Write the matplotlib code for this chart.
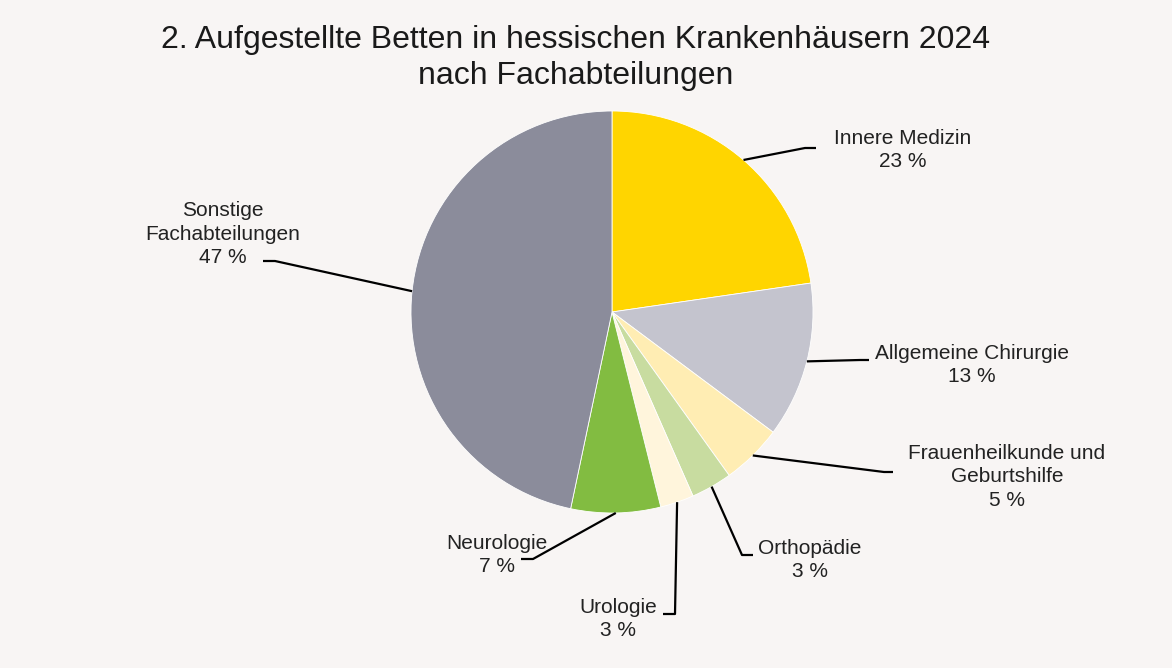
import numpy as np
import matplotlib.pyplot as plt

plt.rcParams["font.family"] = ["Liberation Sans", "DejaVu Sans"]

# Anteile in Prozent
categories = ["Innere Medizin", "Allgemeine Chirurgie", "Frauenheilkunde und\nGeburtshilfe",
              "Orthopädie", "Urologie", "Neurologie", "Sonstige\nFachabteilungen"]
values = [22.7, 12.5, 4.9, 3.3, 2.7, 7.2, 46.7]
pct_labels = ["23 %", "13 %", "5 %", "3 %", "3 %", "7 %", "47 %"]
colors = ["#FFD500", "#C4C4CE", "#FFEDB3", "#C8DCA0", "#FFF5DC", "#82BC41", "#8B8C9B"]

BG = "#F8F5F4"
CX, CY, R = 612, 312, 201

# label placement: (elbow x, elbow y, line end x, text x, text y)
label_pos = [
    (805, 148, 816, 903, 150),
    (860, 360, 869, 972, 365),
    (884, 472, 893, 1007, 477),
    (742, 555, 753, 810, 560),
    (675, 614, 663, 618, 619),
    (533, 559, 521, 497, 555),
    (275, 261, 263, 223, 234),
]

fig = plt.figure(figsize=(11.72, 6.68), dpi=100, facecolor=BG)
ax = fig.add_axes([0, 0, 1, 1])
ax.set_facecolor(BG)

# y axis is inverted afterwards, so counterclock=True draws clockwise on screen
wedges, _ = ax.pie(values, colors=colors, startangle=-90, counterclock=True,
                   center=(CX, CY), radius=R, frame=True,
                   wedgeprops=dict(edgecolor="white", linewidth=0.6))
ax.set_xlim(0, 1172)
ax.set_ylim(668, 0)
ax.set_aspect("equal")
ax.axis("off")

for w, cat, pct, (ex, ey, lx, tx, ty) in zip(wedges, categories, pct_labels, label_pos):
    ang = np.deg2rad((w.theta1 + w.theta2) / 2)
    sx = CX + R * np.cos(ang)
    sy = CY + R * np.sin(ang)
    ax.plot([sx, ex, lx], [sy, ey, ey], color="black", lw=1.6, solid_capstyle="butt")
    ax.text(tx, ty, f"{cat}\n{pct}", ha="center", va="center", fontsize=15,
            color="#222222", linespacing=1.33)

ax.text(576, 58, "2. Aufgestellte Betten in hessischen Krankenhäusern 2024\nnach Fachabteilungen",
        ha="center", va="center", fontsize=23, color="#1a1a1a", linespacing=1.22)

fig.savefig("out.png", dpi=100, facecolor=BG)
